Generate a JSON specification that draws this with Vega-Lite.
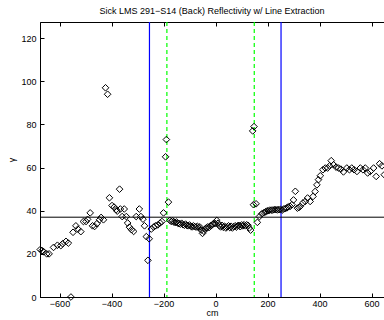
{
  "$schema": "https://vega.github.io/schema/vega-lite/v6.json",
  "width": 344,
  "height": 275,
  "autosize": "none",
  "padding": {"left": 40, "top": 22, "right": 0, "bottom": 23},
  "background": "white",
  "title": {"text": "Sick LMS 291−S14 (Back) Reflectivity w/ Line Extraction", "font": "Liberation Sans", "fontSize": 9, "fontWeight": "normal", "color": "black", "offset": 5, "anchor": "middle"},
  "config": {
    "view": {"stroke": "black", "strokeWidth": 1},
    "axis": {"grid": false, "domainColor": "black", "tickColor": "black", "labelColor": "black", "labelFont": "Liberation Sans", "labelFontSize": 9, "titleFont": "Liberation Sans", "titleFontSize": 9, "titleFontWeight": "normal", "titleColor": "black", "tickSize": -4}
  },
  "datasets": {
    "pts": [
      {"x": -674, "y": 22}, {"x": -667, "y": 21.5}, {"x": -661, "y": 21}, {"x": -649, "y": 20}, {"x": -640, "y": 20}, {"x": -623, "y": 23}, {"x": -608, "y": 24}, {"x": -595, "y": 23.8}, {"x": -588, "y": 24.7}, {"x": -575, "y": 25.8}, {"x": -566, "y": 25},
      {"x": -556, "y": 0}, {"x": -548, "y": 30}, {"x": -537, "y": 33}, {"x": -529, "y": 31.5}, {"x": -518, "y": 30.3}, {"x": -508, "y": 35}, {"x": -498, "y": 35}, {"x": -492, "y": 36}, {"x": -482, "y": 39}, {"x": -473, "y": 33}, {"x": -465, "y": 32.7}, {"x": -456, "y": 34}, {"x": -446, "y": 35.8}, {"x": -440, "y": 36.9}, {"x": -431, "y": 35.8},
      {"x": -423, "y": 97}, {"x": -415, "y": 94}, {"x": -408, "y": 46}, {"x": -398, "y": 42.4}, {"x": -390, "y": 41.7}, {"x": -382, "y": 40.5}, {"x": -378, "y": 39.8}, {"x": -369, "y": 50}, {"x": -366, "y": 40.8}, {"x": -359, "y": 37.3}, {"x": -351, "y": 40.8}, {"x": -343, "y": 37.3}, {"x": -338, "y": 34.3}, {"x": -331, "y": 32.4}, {"x": -323, "y": 31.2}, {"x": -315, "y": 30.4}, {"x": -305, "y": 37.3}, {"x": -293, "y": 40.8}, {"x": -287, "y": 37.3}, {"x": -279, "y": 36.1}, {"x": -273, "y": 33}, {"x": -266, "y": 28}, {"x": -260, "y": 17}, {"x": -255, "y": 27}, {"x": -247, "y": 31.5}, {"x": -238, "y": 32.4}, {"x": -231, "y": 33}, {"x": -222, "y": 33.4}, {"x": -213, "y": 34.3}, {"x": -206, "y": 35}, {"x": -200, "y": 39}, {"x": -192, "y": 65}, {"x": -189, "y": 73}, {"x": -181, "y": 44},
      {"x": -175, "y": 35.5}, {"x": -170, "y": 35}, {"x": -165, "y": 35.3}, {"x": -160, "y": 34.8}, {"x": -155, "y": 34.5}, {"x": -150, "y": 34.8}, {"x": -145, "y": 34.2}, {"x": -140, "y": 34}, {"x": -135, "y": 33.8}, {"x": -130, "y": 34.2}, {"x": -125, "y": 33.5}, {"x": -120, "y": 33.3}, {"x": -115, "y": 33.8}, {"x": -110, "y": 33.2}, {"x": -105, "y": 33}, {"x": -100, "y": 33.4}, {"x": -95, "y": 32.8}, {"x": -90, "y": 32.5}, {"x": -85, "y": 33}, {"x": -80, "y": 32.6}, {"x": -75, "y": 32.4}, {"x": -70, "y": 32.8}, {"x": -65, "y": 32.2}, {"x": -60, "y": 32.5}, {"x": -55, "y": 31}, {"x": -50, "y": 29.5}, {"x": -45, "y": 30.5}, {"x": -40, "y": 31.5}, {"x": -35, "y": 32}, {"x": -30, "y": 32.5}, {"x": -25, "y": 32.2}, {"x": -20, "y": 33}, {"x": -15, "y": 33.2}, {"x": -10, "y": 33.8}, {"x": -5, "y": 34.2}, {"x": 0, "y": 34}, {"x": 5, "y": 35.5}, {"x": 10, "y": 34.2}, {"x": 15, "y": 33}, {"x": 20, "y": 32.5}, {"x": 25, "y": 33.2}, {"x": 30, "y": 32.3}, {"x": 35, "y": 32.8}, {"x": 40, "y": 32}, {"x": 45, "y": 32.5}, {"x": 50, "y": 33}, {"x": 55, "y": 32.2}, {"x": 60, "y": 32.8}, {"x": 65, "y": 32}, {"x": 70, "y": 32.6}, {"x": 75, "y": 33}, {"x": 80, "y": 32.4}, {"x": 85, "y": 33}, {"x": 90, "y": 33.2}, {"x": 95, "y": 32.6}, {"x": 100, "y": 33.4}, {"x": 105, "y": 33}, {"x": 110, "y": 33.5}, {"x": 115, "y": 33}, {"x": 120, "y": 33.5}, {"x": 125, "y": 33.2}, {"x": 130, "y": 32}, {"x": 135, "y": 31},
      {"x": 143, "y": 77}, {"x": 148, "y": 79}, {"x": 146, "y": 42.8}, {"x": 156, "y": 43.2}, {"x": 161, "y": 34.6}, {"x": 169, "y": 37.3}, {"x": 178, "y": 38.6}, {"x": 187, "y": 39.2},
      {"x": 192, "y": 39.5}, {"x": 197, "y": 39.8}, {"x": 202, "y": 40}, {"x": 208, "y": 40.2}, {"x": 214, "y": 40.3}, {"x": 220, "y": 40.3}, {"x": 226, "y": 40.5}, {"x": 232, "y": 40.5}, {"x": 238, "y": 40.4}, {"x": 244, "y": 40.5}, {"x": 250, "y": 40.6}, {"x": 256, "y": 40.3}, {"x": 262, "y": 40.8}, {"x": 268, "y": 41}, {"x": 274, "y": 41.3}, {"x": 280, "y": 41.8},
      {"x": 287, "y": 42}, {"x": 294, "y": 42.8}, {"x": 300, "y": 45}, {"x": 307, "y": 49}, {"x": 315, "y": 41.2}, {"x": 321, "y": 41.5}, {"x": 326, "y": 42}, {"x": 336, "y": 43.6}, {"x": 345, "y": 44.3}, {"x": 354, "y": 45.9}, {"x": 364, "y": 44.3}, {"x": 375, "y": 46.6}, {"x": 383, "y": 48.9}, {"x": 390, "y": 52}, {"x": 396, "y": 54.4}, {"x": 403, "y": 56.2}, {"x": 413, "y": 59}, {"x": 422, "y": 59.8}, {"x": 431, "y": 59.8}, {"x": 439, "y": 60.8}, {"x": 445, "y": 63.2}, {"x": 454, "y": 61.3}, {"x": 464, "y": 60.2}, {"x": 473, "y": 59.8}, {"x": 482, "y": 59.3}, {"x": 492, "y": 58}, {"x": 505, "y": 59.8}, {"x": 515, "y": 59}, {"x": 524, "y": 59.8}, {"x": 533, "y": 59}, {"x": 544, "y": 58.2}, {"x": 557, "y": 59.8}, {"x": 567, "y": 59}, {"x": 576, "y": 59.8}, {"x": 585, "y": 57.5}, {"x": 595, "y": 58.2}, {"x": 608, "y": 59.8}, {"x": 618, "y": 55.9}, {"x": 631, "y": 61.8}, {"x": 640, "y": 60.8}, {"x": 649, "y": 56.7}
    ],
    "blue": [{"pos": -254}, {"pos": 252}],
    "green": [{"pos": -187}, {"pos": 149}],
    "hline": [{"level": 37}]
  },
  "resolve": {"axis": {"x": "independent", "y": "independent"}},
  "layer": [
    {
      "data": {"name": "blue"},
      "mark": {"type": "rule", "color": "#0000ff", "strokeWidth": 1.2},
      "encoding": {
        "x": {"field": "pos", "type": "quantitative", "scale": {"domain": [-675, 648], "nice": false, "zero": false}, "axis": {"orient": "top", "labels": false, "title": null, "domain": false, "values": [-600, -400, -200, 0, 200, 400, 600]}}
      }
    },
    {
      "data": {"name": "green"},
      "mark": {"type": "rule", "color": "#00ff00", "strokeWidth": 1.2, "strokeDash": [4, 3]},
      "encoding": {
        "x": {"field": "pos", "type": "quantitative", "axis": null}
      }
    },
    {
      "data": {"name": "hline"},
      "mark": {"type": "rule", "color": "black", "strokeWidth": 1},
      "encoding": {
        "y": {"field": "level", "type": "quantitative", "scale": {"domain": [0, 127.5], "nice": false}, "axis": null}
      }
    },
    {
      "data": {"name": "pts"},
      "mark": {"type": "point", "shape": "diamond", "size": 44, "filled": false, "stroke": "black", "strokeWidth": 1, "opacity": 1},
      "encoding": {
        "x": {"field": "x", "type": "quantitative", "axis": {"orient": "bottom", "title": "cm", "values": [-600, -400, -200, 0, 200, 400, 600], "labelPadding": 6, "titlePadding": 0}},
        "y": {"field": "y", "type": "quantitative", "axis": {"orient": "left", "title": "γ", "values": [0, 20, 40, 60, 80, 100, 120], "labelPadding": 8, "titlePadding": 4}}
      }
    }
  ]
}
